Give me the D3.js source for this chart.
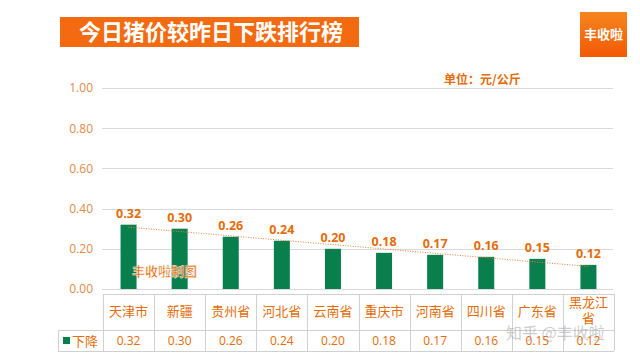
<!DOCTYPE html>
<html>
<head>
<meta charset="utf-8">
<script src="https://cdn.jsdelivr.net/npm/d3@7"></script>
<style>
  body { margin: 0; background: #fff; }
  svg { display: block; font-family: "Noto Sans CJK SC", "Noto Sans", sans-serif; }
</style>
</head>
<body>
<svg id="chart" width="640" height="360"></svg>
<script>
'use strict';

// data
var provinces = ['天津市', '新疆', '贵州省', '河北省', '云南省', '重庆市', '河南省', '四川省', '广东省', '黑龙江省'];
var drops = [0.32, 0.30, 0.26, 0.24, 0.20, 0.18, 0.17, 0.16, 0.15, 0.12];
var yTicks = [0, 0.2, 0.4, 0.6, 0.8, 1.0];
var seriesName = '下降';
var title = '今日猪价较昨日下跌排行榜';
var unitText = '单位：元/公斤';

var settings = {
    left: 103,
    right: 614,
    top: 88,
    bottom: 289,
    tableTop: 294,
    rowSplit: 330,
    tableBottom: 351,
    legendLeft: 58,
    barWidth: 16,
    orange: '#e46c0a',
    tickColor: '#e08a4a',
    green: '#0a7f4e',
    grid: '#d9d9d9'
};

var svg = d3.select('#chart');

var defs = svg.append('defs');
var grad = defs.append('linearGradient').attr('id', 'logoGrad')
    .attr('x1', 0).attr('y1', 0).attr('x2', 0).attr('y2', 1);
grad.append('stop').attr('offset', '0%').attr('stop-color', '#f7841f');
grad.append('stop').attr('offset', '100%').attr('stop-color', '#f25a05');

// title banner
svg.append('rect').attr('x', 60).attr('y', 17).attr('width', 299).attr('height', 30)
    .attr('fill', '#f36a10');
svg.append('text').attr('x', 211).attr('y', 40).attr('text-anchor', 'middle')
    .attr('fill', '#fff').attr('font-size', 22).attr('font-weight', 'bold')
    .text(title);

// logo
svg.append('rect').attr('x', 580).attr('y', 12).attr('width', 47).attr('height', 45)
    .attr('fill', 'url(#logoGrad)');
svg.append('text').attr('x', 603.5).attr('y', 39).attr('text-anchor', 'middle')
    .attr('fill', '#fff').attr('font-size', 13).attr('font-weight', 'bold')
    .text('丰收啦');

// unit
svg.append('text').attr('x', 444).attr('y', 84).attr('fill', settings.orange)
    .attr('font-size', 12).attr('font-weight', 'bold').text(unitText);

var x = d3.scaleBand().domain(provinces).range([settings.left, settings.right]);
var y = d3.scaleLinear().domain([0, 1]).range([settings.bottom, settings.top]);

// grid lines
svg.append('g').selectAll('line').data(yTicks).enter().append('line')
    .attr('x1', settings.left - 1).attr('x2', settings.right - 1)
    .attr('y1', function (d) { return Math.round(y(d)) + 0.5; })
    .attr('y2', function (d) { return Math.round(y(d)) + 0.5; })
    .attr('stroke', settings.grid).attr('stroke-width', 1);

// y axis labels
var yAxis = d3.axisLeft(y).tickValues(yTicks).tickSize(0).tickPadding(0)
    .tickFormat(d3.format('.2f'));
var yg = svg.append('g').attr('transform', 'translate(93,0)').call(yAxis);
yg.select('.domain').remove();
yg.selectAll('text').attr('fill', settings.tickColor).attr('font-size', 12)
    .attr('font-family', '"Open Sans", "Noto Sans", sans-serif');

// bars
svg.append('g').selectAll('rect').data(drops).enter().append('rect')
    .attr('x', function (d, i) { return x(provinces[i]) + x.bandwidth() / 2 - settings.barWidth / 2; })
    .attr('y', function (d) { return y(d); })
    .attr('width', settings.barWidth)
    .attr('height', function (d) { return y(0) - y(d); })
    .attr('fill', settings.green);

// linear trendline (least squares over the values)
var n = drops.length;
var mx = d3.mean(drops, function (d, i) { return i; });
var my = d3.mean(drops);
var sxy = d3.sum(drops, function (d, i) { return (i - mx) * (d - my); });
var sxx = d3.sum(drops, function (d, i) { return (i - mx) * (i - mx); });
var slope = sxy / sxx;
var trend = function (i) { return my + slope * (i - mx); };
svg.append('line')
    .attr('x1', x(provinces[0]) + x.bandwidth() / 2)
    .attr('y1', y(trend(0)))
    .attr('x2', x(provinces[n - 1]) + x.bandwidth() / 2)
    .attr('y2', y(trend(n - 1)))
    .attr('stroke', '#ec7f38').attr('stroke-width', 1)
    .attr('stroke-dasharray', '1,1.5');

// data labels
svg.append('g').selectAll('text').data(drops).enter().append('text')
    .attr('x', function (d, i) { return x(provinces[i]) + x.bandwidth() / 2; })
    .attr('y', function (d) { return y(d) - 7; })
    .attr('text-anchor', 'middle').attr('fill', settings.orange)
    .attr('font-size', 12.5).attr('font-weight', 'bold')
    .attr('font-family', '"Open Sans", "Noto Sans", sans-serif')
    .text(function (d) { return d3.format('.2f')(d); });

// data table
var table = svg.append('g').attr('stroke', '#d0d0d0').attr('stroke-width', 1);
table.append('line').attr('x1', settings.left).attr('x2', settings.right)
    .attr('y1', settings.tableTop + 0.5).attr('y2', settings.tableTop + 0.5);
table.append('line').attr('x1', settings.legendLeft).attr('x2', settings.right)
    .attr('y1', settings.rowSplit + 0.5).attr('y2', settings.rowSplit + 0.5);
table.append('line').attr('x1', settings.legendLeft).attr('x2', settings.right)
    .attr('y1', settings.tableBottom + 0.5).attr('y2', settings.tableBottom + 0.5);
table.append('line').attr('x1', settings.legendLeft + 0.5).attr('x2', settings.legendLeft + 0.5)
    .attr('y1', settings.rowSplit).attr('y2', settings.tableBottom);
var bounds = provinces.map(function (p) { return x(p); }).concat([settings.right]);
table.selectAll('.vline').data(bounds).enter().append('line').attr('class', 'vline')
    .attr('x1', function (d) { return Math.round(d) + 0.5; })
    .attr('x2', function (d) { return Math.round(d) + 0.5; })
    .attr('y1', settings.tableTop).attr('y2', settings.tableBottom);

// category names
svg.append('g').selectAll('text').data(provinces).enter().append('text')
    .attr('x', function (d) { return x(d) + x.bandwidth() / 2; })
    .attr('text-anchor', 'middle').attr('fill', settings.orange).attr('font-size', 13)
    .each(function (d) {
        var t = d3.select(this);
        if (d.length > 3) {
            t.append('tspan').attr('x', x(d) + x.bandwidth() / 2).attr('y', 307).text(d.slice(0, 3));
            t.append('tspan').attr('x', x(d) + x.bandwidth() / 2).attr('y', 323).text(d.slice(3));
        } else {
            t.attr('y', 316).text(d);
        }
    });

// value row
svg.append('g').selectAll('text').data(drops).enter().append('text')
    .attr('x', function (d, i) { return x(provinces[i]) + x.bandwidth() / 2; })
    .attr('y', 345).attr('text-anchor', 'middle').attr('fill', settings.orange)
    .attr('font-size', 12).attr('font-family', '"Open Sans", "Noto Sans", sans-serif')
    .text(function (d) { return d3.format('.2f')(d); });

// legend cell
svg.append('rect').attr('x', 63).attr('y', 337).attr('width', 7).attr('height', 7)
    .attr('fill', settings.green);
svg.append('text').attr('x', 72).attr('y', 345.5).attr('fill', settings.orange)
    .attr('font-size', 13).text(seriesName);

// watermarks
svg.append('text').attr('x', 132).attr('y', 276).attr('fill', settings.orange)
    .attr('font-size', 13).attr('font-weight', 'bold')
    .attr('stroke', '#fff').attr('stroke-width', 0.4)
    .text('丰收啦制图');
svg.append('text').attr('x', 506).attr('y', 339).attr('fill', '#9a9a9a')
    .attr('fill-opacity', 0.5).attr('font-size', 16)
    .text('知乎 @丰收啦');
</script>
</body>
</html>
